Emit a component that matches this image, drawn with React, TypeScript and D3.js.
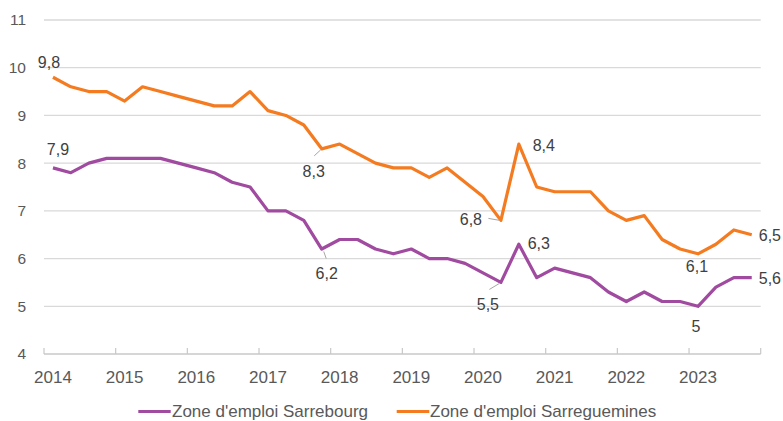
import React from "react";
import * as d3 from "d3";

const quarters: string[] = [];
const years = ["2014", "2015", "2016", "2017", "2018", "2019", "2020", "2021", "2022", "2023"];
years.forEach((y) => ["T1", "T2", "T3", "T4"].forEach((q) => quarters.push(`${y}-${q}`)));

const sarrebourg = [
  7.9, 7.8, 8.0, 8.1, 8.1, 8.1, 8.1, 8.0, 7.9, 7.8,
  7.6, 7.5, 7.0, 7.0, 6.8, 6.2, 6.4, 6.4, 6.2, 6.1,
  6.2, 6.0, 6.0, 5.9, 5.7, 5.5, 6.3, 5.6, 5.8, 5.7,
  5.6, 5.3, 5.1, 5.3, 5.1, 5.1, 5.0, 5.4, 5.6, 5.6,
];
const sarreguemines = [
  9.8, 9.6, 9.5, 9.5, 9.3, 9.6, 9.5, 9.4, 9.3, 9.2,
  9.2, 9.5, 9.1, 9.0, 8.8, 8.3, 8.4, 8.2, 8.0, 7.9,
  7.9, 7.7, 7.9, 7.6, 7.3, 6.8, 8.4, 7.5, 7.4, 7.4,
  7.4, 7.0, 6.8, 6.9, 6.4, 6.2, 6.1, 6.3, 6.6, 6.5,
];
const yTicks = [4, 5, 6, 7, 8, 9, 10, 11];
const seriesNames = ["Zone d'emploi Sarrebourg", "Zone d'emploi Sarreguemines"];
const seriesColors = ["#A04AA0", "#F47B20"];

// Annotated points: series index, point index
const annotated: { s: number; i: number }[] = [
  { s: 1, i: 0 }, { s: 0, i: 0 }, { s: 1, i: 15 }, { s: 0, i: 15 },
  { s: 1, i: 25 }, { s: 0, i: 25 }, { s: 1, i: 26 }, { s: 0, i: 26 },
  { s: 1, i: 36 }, { s: 0, i: 36 }, { s: 1, i: 39 }, { s: 0, i: 39 },
];

// layout of annotation labels (offsets from point)
const labelLayout: Record<string, { dx: number; dy: number; anchor: string; leader?: [number, number, number, number] }> = {
  "1-0": { dx: -4, dy: -9, anchor: "middle" },
  "0-0": { dx: 5, dy: -13, anchor: "middle" },
  "1-15": { dx: -8, dy: 28, anchor: "middle", leader: [-7.5, 7, -1, 1] },
  "0-15": { dx: 5, dy: 30, anchor: "middle", leader: [4.5, 9.5, 2, 2.5] },
  "1-25": { dx: -30, dy: 5, anchor: "middle", leader: [-12.5, -2, -1, 0] },
  "0-25": { dx: -13, dy: 27.5, anchor: "middle", leader: [-11.5, 7, -1.5, 1] },
  "1-26": { dx: 25, dy: 6.5, anchor: "middle" },
  "0-26": { dx: 20, dy: 5, anchor: "middle" },
  "1-36": { dx: -1, dy: 18.5, anchor: "middle" },
  "0-36": { dx: -2, dy: 26, anchor: "middle" },
  "1-39": { dx: 7, dy: 6, anchor: "start" },
  "0-39": { dx: 7, dy: 6.3, anchor: "start" },
};

const W = 783;
const H = 421;
const left = 44;
const right = 760.7;
const top = 20;
const bottom = 354;

const fr = d3.formatLocale({ decimal: ",", thousands: " ", grouping: [3], currency: ["", "€"] });
const fmt = (v: number) => fr.format("~g")(v);

export default function App() {
  const x = d3.scaleBand<string>().domain(quarters).range([left, right]).padding(0);
  const y = d3.scaleLinear().domain([4, 11]).range([bottom, top]);
  const cx = (i: number) => (x(quarters[i]) as number) + x.bandwidth() / 2;
  const data = [sarrebourg, sarreguemines];
  const line = d3
    .line<number>()
    .x((_, i) => cx(i))
    .y((d) => y(d));

  const tickBounds = d3.range(0, quarters.length + 1, 4).map((k) =>
    k < quarters.length ? (x(quarters[k]) as number) : right
  );

  const font = "'Liberation Sans', Arial, sans-serif";

  return (
    <svg
      width={W}
      height={H}
      style={{ position: "absolute", left: 0, top: 0, background: "#fff" }}
      fontFamily={font}
    >
      {yTicks.map((t) =>
        t === 4 ? null : (
          <line key={t} x1={left} x2={right} y1={y(t)} y2={y(t)} stroke="#d9d9d9" strokeWidth={1.3} />
        )
      )}
      <line x1={left} x2={right} y1={y(4)} y2={y(4)} stroke="#c8c8c8" strokeWidth={1.3} />
      {tickBounds.map((tx, k) => (
        <line key={k} x1={tx} x2={tx} y1={y(4) - 6} y2={y(4)} stroke="#c8c8c8" strokeWidth={1.2} />
      ))}
      {yTicks.map((t) => (
        <text key={t} x={26} y={y(t)} dy="0.35em" textAnchor="end" fontSize={15.5} fill="#595959">
          {t}
        </text>
      ))}
      {years.map((yr, k) => (
        <text key={yr} x={cx(k * 4)} y={383} textAnchor="middle" fontSize={17} fill="#595959">
          {yr}
        </text>
      ))}
      {data.map((d, s) => (
        <path key={s} d={line(d) || ""} fill="none" stroke={seriesColors[s]} strokeWidth={3.2} strokeLinejoin="round" />
      ))}
      {annotated.map(({ s, i }) => {
        const key = `${s}-${i}`;
        const L = labelLayout[key];
        const px = cx(i);
        const py = y(data[s][i]);
        return (
          <g key={key}>
            {L.leader && (
              <line
                x1={px + L.leader[0]}
                y1={py + L.leader[1]}
                x2={px + L.leader[2]}
                y2={py + L.leader[3]}
                stroke="#a6a6a6"
                strokeWidth={1}
              />
            )}
            <text x={px + L.dx} y={py + L.dy} textAnchor={L.anchor as any} fontSize={16} fill="#404040">
              {fmt(data[s][i])}
            </text>
          </g>
        );
      })}
      {/* legend */}
      <line x1={138.3} x2={170.7} y1={411.5} y2={411.5} stroke={seriesColors[0]} strokeWidth={3} />
      <text x={172} y={416.5} fontSize={17} fill="#595959">{seriesNames[0]}</text>
      <line x1={396.7} x2={429.3} y1={411.5} y2={411.5} stroke={seriesColors[1]} strokeWidth={3} />
      <text x={430} y={416.5} fontSize={17} fill="#595959">{seriesNames[1]}</text>
    </svg>
  );
}
